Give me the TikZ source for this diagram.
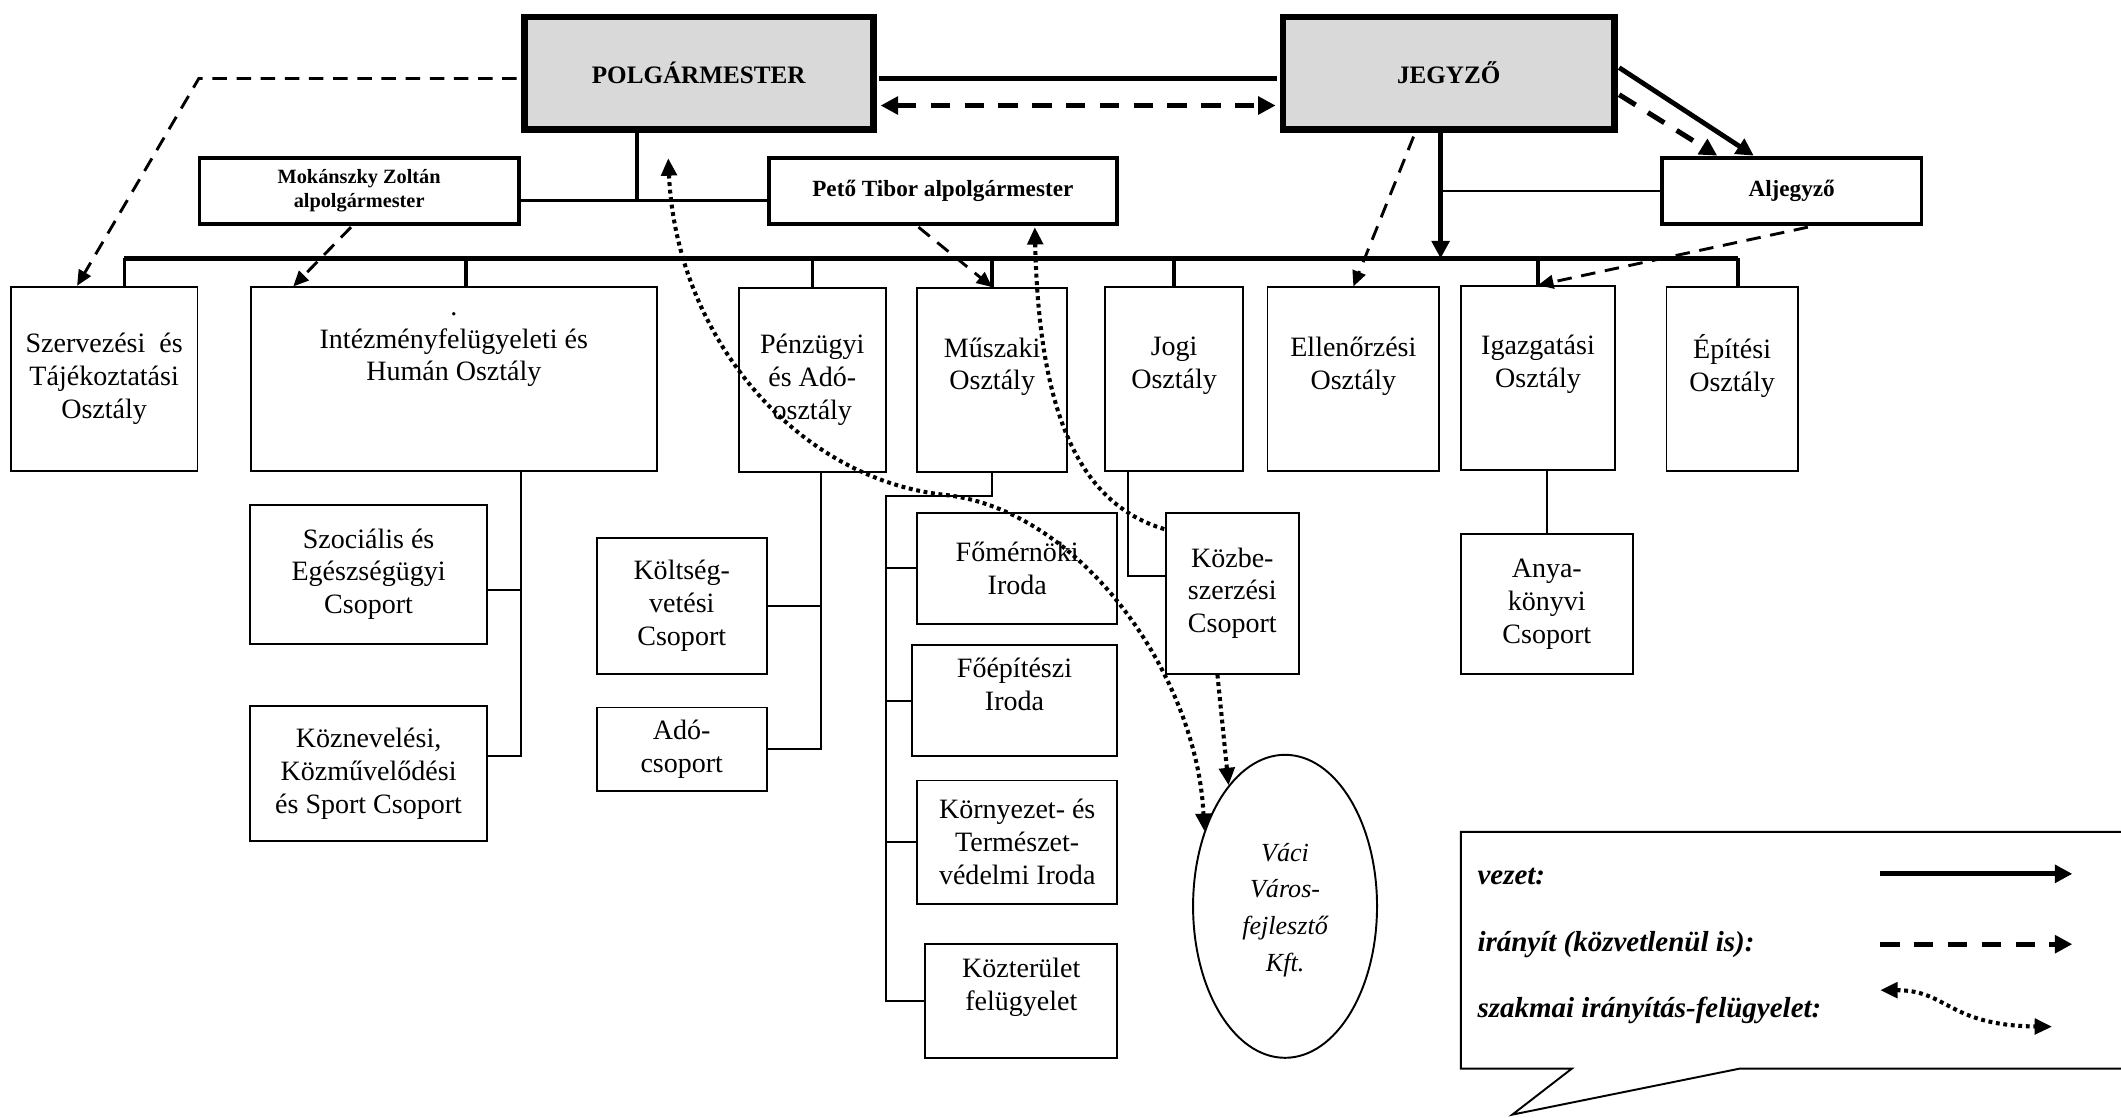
\documentclass[tikz,border=0pt]{standalone}
\usepackage{fontspec}
\setmainfont{Liberation Serif}
\usetikzlibrary{arrows.meta,shapes.geometric,calc}

\begin{document}
\begin{tikzpicture}[x=0.7pt, y=-0.7pt,
    wh/.style 2 args={minimum width=#1*0.7pt, minimum height=#2*0.7pt},
    chief/.style={draw, line width=3.5pt, fill=black!15, inner sep=0pt,
      font=\fontsize{13}{15}\selectfont\bfseries},
    deputy/.style={draw, line width=2pt, fill=white, inner sep=0pt, align=center,
      font=\fontsize{12}{14}\selectfont\bfseries},
    unit/.style={draw, line width=1pt, fill=white, inner sep=0pt, align=center,
      font=\fontsize{14.5}{17}\selectfont},
    conn/.style={line width=1pt},
    link/.style={line width=1.7pt},
    stub/.style={line width=1.8pt},
    bus/.style={line width=2.6pt},
    lead/.style={line width=2.5pt, arrows={-Triangle[length=9pt,width=9pt]}},
    irany/.style={line width=1.5pt, dash pattern=on 7.5pt off 5pt,
      arrows={-Triangle[length=8pt,width=7pt]}},
    iranyvast/.style={line width=2.6pt, dash pattern=on 10pt off 7.5pt,
      arrows={-Triangle[length=9pt,width=9pt]}},
    szak/.style={line width=2.1pt, dash pattern=on 2pt off 1.9pt,
      arrows={Triangle[length=9pt,width=8pt]-Triangle[length=9pt,width=8pt]}},
    legend/.style={anchor=west, inner sep=0pt,
      font=\fontsize{15}{18}\selectfont\bfseries\itshape}]

      \useasboundingbox (0,0) rectangle (1568,826);
      \clip (0,0) rectangle (1568,826);

      \node[chief, wh={258}{83}] (polg) at (516.5,54) {POLGÁRMESTER};
      \node[chief, wh={245}{83}] (jegyzo) at (1071,54) {JEGYZŐ};

      \node[deputy, wh={236}{49}, font=\fontsize{10.5}{12.5}\selectfont\bfseries]
        (mokanszky) at (265.5,141) {Mokánszky Zoltán\\alpolgármester};
      \node[deputy, wh={257}{49}] (peto) at (697,141) {Pető Tibor alpolgármester};
      \node[deputy, wh={192}{49}] (aljegyzo) at (1324.5,141) {Aljegyző};

      \node[unit, wh={138}{136}] (szerv) at (77,280) {Szervezési\ \ és\\Tájékoztatási\\Osztály};
      \node[unit, wh={300}{136}] (intezmeny) at (335.5,280.5) {.\\Intézményfelügyeleti és\\Humán Osztály\\~\\~};
      \node[unit, wh={109}{136}] (penzugy) at (600.5,281) {Pénzügyi\\és Adó-\\osztály};
      \node[unit, wh={111}{136}] (muszaki) at (733.5,281) {Műszaki\\Osztály\\~};
      \node[unit, wh={102}{136}] (jogi) at (868,280.5) {Jogi\\Osztály\\~};
      \node[unit, wh={127}{136}] (ellenor) at (1000.5,280.5) {Ellenőrzési\\Osztály\\~};
      \node[unit, wh={114}{136}] (igazgat) at (1137,279.5) {Igazgatási\\Osztály\\~};
      \node[unit, wh={97}{136}] (epitesi) at (1280.5,280.5) {Építési\\Osztály\\~};

      \node[unit, wh={175}{103}] (szocialis) at (272.5,424.5) {Szociális és\\Egészségügyi\\Csoport};
      \node[unit, wh={175}{100}] (kozneveles) at (272.5,572) {Köznevelési,\\Közművelődési\\és Sport Csoport};
      \node[unit, wh={126}{100}] (koltseg) at (504,448) {Költség-\\vetési\\Csoport};
      \node[unit, wh={126}{62}] (ado) at (504,554) {Adó-\\csoport};

      \node[unit, wh={148}{82}] (fomernok) at (752,420) {Főmérnöki\\Iroda};
      \node[unit, wh={152}{82}] (foepitesz) at (750,518) {Főépítészi\\Iroda\\~};
      \node[unit, wh={148}{91}] (kornyezet) at (752,622.5) {Környezet- és\\Természet-\\védelmi Iroda};
      \node[unit, wh={142}{84}] (kozterulet) at (755,740) {Közterület\\felügyelet\\~};

      \node[unit, wh={98}{119}] (kozbesz) at (911,438.5) {Közbe-\\szerzési\\Csoport};
      \node[unit, wh={127}{103}] (anyakonyv) at (1143.5,446.5) {Anya-\\könyvi\\Csoport};

      \node[ellipse, draw, line width=1pt, fill=white, inner sep=0pt, wh={136}{224},
        align=center, font=\fontsize{13.5}{19}\selectfont\itshape]
        (vvf) at (950,670) {~\\[-6pt]Váci\\Város-\\fejlesztő\\Kft.};

      \draw[link, line width=2.4pt] ($(polg.east)+(2,4)$) -- ($(jegyzo.west)+(-2,4)$);
      \draw[iranyvast, arrows={Triangle[length=9pt,width=9pt]-Triangle[length=9pt,width=9pt]}]
        ($(polg.east)+(3,24)$) -- ($(jegyzo.west)+(-3,24)$);

      \coordinate (pvert) at (471,148);
      \draw[link] (pvert |- polg.south) -- (pvert);
      \draw[link] ($(mokanszky.east)+(0,7)$) -- ($(peto.west)+(0,7)$);

      \coordinate (jvert) at (1065,191);
      \draw[lead] (jvert |- jegyzo.south) -- (jvert);
      \draw[conn] (jvert |- aljegyzo.west) -- (aljegyzo.west);
      \draw[lead] ($(jegyzo.east)+(1,-4)$) -- ($(aljegyzo.north)+(-28,0)$);
      \draw[iranyvast] ($(jegyzo.east)+(1,16)$) -- ($(aljegyzo.north)+(-55,0)$);

      \coordinate (busL) at (92,191);
      \coordinate (busR) at (1285,191);
      \draw[bus] (busL) -- (busR);
      \coordinate (istub) at ($(intezmeny.north)+(9,0)$);
      \draw[stub] (busL) -- (busL |- szerv.north);
      \draw[stub] (istub |- busL) -- (istub);
      \draw[stub] (penzugy.north |- busL) -- (penzugy.north);
      \draw[stub] (muszaki.north |- busL) -- (muszaki.north);
      \draw[stub] (jogi.north |- busL) -- (jogi.north);
      \draw[stub] (igazgat.north |- busL) -- (igazgat.north);
      \draw[stub] (busR) -- (busR |- epitesi.north);

      \coordinate (skink) at (147,58);
      \draw[irany] ($(polg.west)+(-3,4)$) -- (skink) -- ($(szerv.north)+(-20,0)$);
      \draw[irany] ($(mokanszky.south)+(-6,1)$) -- ($(intezmeny.north west)+(32,0)$);
      \draw[irany] ($(peto.south)+(-18,1)$) -- (muszaki.north);
      \draw[irany] ($(jegyzo.south)+(-26,3)$) -- (ellenor.north);
      \draw[irany] ($(aljegyzo.south)+(12,1)$) -- (igazgat.north);

      \coordinate (ihub) at (385,559);
      \draw[conn] (intezmeny.south -| ihub) -- (ihub) -- (ihub -| kozneveles.east);
      \coordinate (iszoc) at ($(szocialis.east)+(0,12)$);
      \draw[conn] (iszoc) -- (iszoc -| ihub);

      \coordinate (phub) at (607,553);
      \draw[conn] (penzugy.south -| phub) -- (phub |- ado.east) -- (ado.east);
      \draw[conn] (koltseg.east) -- (koltseg.east -| phub);

      \coordinate (mhub) at (655,367);
      \draw[conn] (muszaki.south) |- (mhub) |- (kozterulet.west);
      \draw[conn] (fomernok.west) -- (fomernok.west -| mhub);
      \draw[conn] (foepitesz.west) -- (foepitesz.west -| mhub);
      \draw[conn] (kornyezet.west) -- (kornyezet.west -| mhub);

      \coordinate (jhub) at (834,426);
      \draw[conn] (jogi.south -| jhub) -- (jhub) -- (jhub -| kozbesz.west);
      \draw[conn] (anyakonyv.north) -- (anyakonyv.north |- igazgat.south);

      \coordinate (ptip) at (494,117);
      \draw[szak] (ptip) .. controls (500,250) and (590,355) .. (700,366)
        .. controls (800,378) and (885,500) .. (vvf.137);
      \draw[szak, arrows={Triangle[length=9pt,width=8pt]-}] ($(peto.south)+(68,1)$)
        .. controls (768,300) and (795,372) .. ($(kozbesz.north west)+(0,13)$);
      \draw[szak, arrows={-Triangle[length=9pt,width=8pt]}] ($(kozbesz.south)+(-11,0)$) -- (vvf.115);

      \draw[line width=1pt] (1080,615) -- (1600,615) -- (1600,790) -- (1286,790)
        -- (1118,824) -- (1162,790) -- (1080,790) -- cycle;
      \node[legend] (lvezet) at (1092,648) {vezet:};
      \node[legend] (liranyit) at (1092,698) {irányít (közvetlenül is):};
      \node[legend] (lszakmai) at (1092,747) {szakmai irányítás-felügyelet:};

      \coordinate (lva) at (1390,646);
      \coordinate (lvb) at (1532,646);
      \draw[lead, line width=2.6pt] (lva) -- (lvb);
      \coordinate (lia) at (1390,698);
      \coordinate (lib) at (1532,698);
      \draw[iranyvast] (lia) -- (lib);
      \coordinate (lsa) at (1390,732);
      \coordinate (lsb) at (1517,759);
      \draw[szak] (lsa) .. controls (1440,732) and (1440,758) .. (lsb);
\end{tikzpicture}
\end{document}
